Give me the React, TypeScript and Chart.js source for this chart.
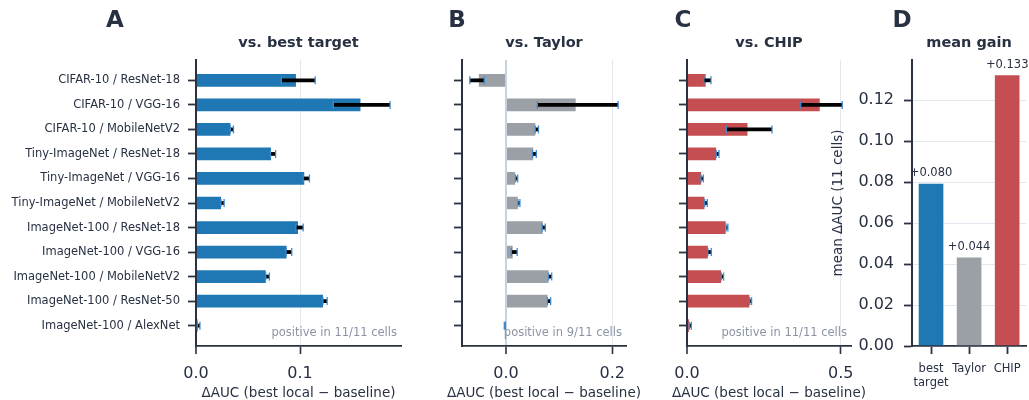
import React, { useEffect, useRef } from "react";
import { Chart, registerables } from "chart.js";

Chart.register(...registerables);

// ---------- data ----------
const cells = [
  "CIFAR-10 / ResNet-18",
  "CIFAR-10 / VGG-16",
  "CIFAR-10 / MobileNetV2",
  "Tiny-ImageNet / ResNet-18",
  "Tiny-ImageNet / VGG-16",
  "Tiny-ImageNet / MobileNetV2",
  "ImageNet-100 / ResNet-18",
  "ImageNet-100 / VGG-16",
  "ImageNet-100 / MobileNetV2",
  "ImageNet-100 / ResNet-50",
  "ImageNet-100 / AlexNet",
];

const bestTargetGain = [0.097, 0.159, 0.034, 0.073, 0.105, 0.025, 0.099, 0.088, 0.068, 0.123, 0.002];
const bestTargetLo = [0.082, 0.132, 0.033, 0.0715, 0.103, 0.024, 0.096, 0.0865, 0.067, 0.122, 0.0013];
const bestTargetHi = [0.1145, 0.1865, 0.036, 0.0765, 0.109, 0.027, 0.103, 0.092, 0.0705, 0.126, 0.0038];

const taylorGain = [-0.053, 0.133, 0.057, 0.053, 0.019, 0.024, 0.071, 0.0145, 0.082, 0.080, -0.002];
const taylorLo = [-0.068, 0.059, 0.055, 0.050, 0.018, 0.0225, 0.068, 0.010, 0.080, 0.078, -0.0032];
const taylorHi = [-0.041, 0.211, 0.061, 0.057, 0.022, 0.0262, 0.074, 0.021, 0.086, 0.084, -0.0012];

const chipGain = [0.064, 0.435, 0.2, 0.098, 0.049, 0.06, 0.129, 0.071, 0.114, 0.206, 0.009];
const chipLo = [0.055, 0.370, 0.128, 0.095, 0.0455, 0.0575, 0.127, 0.068, 0.1117, 0.204, 0.0076];
const chipHi = [0.078, 0.505, 0.2765, 0.104, 0.053, 0.066, 0.133, 0.079, 0.119, 0.210, 0.014];

const summaryLabels = [["best", "target"], "Taylor", "CHIP"];
const summaryMeans = [0.0797, 0.0437, 0.1328];

const panelNotes = ["positive in 11/11 cells", "positive in 9/11 cells", "positive in 11/11 cells"];
const panelTitles = ["vs. best target", "vs. Taylor", "vs. CHIP", "mean gain"];
const panelLetters = ["A", "B", "C", "D"];
const xAxisTitle = "ΔAUC (best local − baseline)";
const summaryAxisTitle = "mean ΔAUC (11 cells)";

// ---------- style ----------
const FONT = "'DejaVu Sans', 'Liberation Sans', sans-serif";
const INK = "#283142";
const SPINE = "#2a3140";
const GRID = "#e4e7ee";
const ZERO = "#c6d2e1";
const NOTE = "#8b94a4";
const CAP = "#3d8ad0";
const BLUE = "#1f77b4";
const GRAY = "#9aa0a6";
const RED = "#c44e52";
const EDGE = "rgba(255,255,255,0.35)";
const W = 1029;
const H = 400;

Chart.defaults.font.family = FONT;

function decorPlugin(letter: string, letterX: number, title: string, note?: string, axisTitle?: string) {
  return {
    id: "decor" + letter,
    afterDraw(chart: any) {
      const { ctx, chartArea } = chart;
      const cx = (chartArea.left + chartArea.right) / 2;
      ctx.save();
      ctx.fillStyle = INK;
      ctx.textAlign = "center";
      ctx.textBaseline = "alphabetic";
      ctx.font = `bold 23px ${FONT}`;
      ctx.fillText(letter, letterX, 27);
      ctx.font = `bold 14.5px ${FONT}`;
      ctx.fillText(title, cx, 47);
      if (axisTitle) {
        ctx.font = `13.5px ${FONT}`;
        ctx.fillText(axisTitle, cx, 397);
      }
      if (note) {
        ctx.font = `11.5px ${FONT}`;
        ctx.fillStyle = NOTE;
        ctx.textAlign = "right";
        ctx.fillText(note, chartArea.right - 4, 336);
      }
      ctx.restore();
    },
  };
}

function errorBarPlugin(lo: number[], hi: number[]) {
  return {
    id: "errbars",
    afterDatasetsDraw(chart: any) {
      const { ctx } = chart;
      const xs = chart.scales.x;
      const ys = chart.scales.y;
      ctx.save();
      lo.forEach((l, i) => {
        const x1 = xs.getPixelForValue(l);
        const x2 = xs.getPixelForValue(hi[i]);
        const y = ys.getPixelForValue(i);
        ctx.strokeStyle = "#000";
        ctx.lineWidth = 3.8;
        ctx.lineCap = "butt";
        ctx.beginPath();
        ctx.moveTo(x1, y);
        ctx.lineTo(x2, y);
        ctx.stroke();
        ctx.strokeStyle = CAP;
        ctx.lineWidth = 1.3;
        [x1, x2].forEach((xx) => {
          ctx.beginPath();
          ctx.moveTo(xx, y - 4);
          ctx.lineTo(xx, y + 4);
          ctx.stroke();
        });
      });
      ctx.restore();
    },
  };
}

function valueLabelPlugin() {
  return {
    id: "valueLabels",
    afterDatasetsDraw(chart: any) {
      const { ctx } = chart;
      const meta = chart.getDatasetMeta(0);
      const values = chart.data.datasets[0].data as number[];
      ctx.save();
      ctx.fillStyle = INK;
      ctx.font = `11.5px ${FONT}`;
      ctx.textAlign = "center";
      ctx.textBaseline = "alphabetic";
      meta.data.forEach((bar: any, i: number) => {
        ctx.fillText("+" + values[i].toFixed(3), bar.x, bar.y - 6.5);
      });
      ctx.restore();
    },
  };
}

type Area = { l: number; r: number; t: number; b: number };

function hbarConfig(p: {
  values: number[];
  lo: number[];
  hi: number[];
  color: string;
  xMin: number;
  xMax: number;
  xStep: number;
  showLabels: boolean;
  zeroColor: string;
  area: Area;
  idx: number;
  letterX: number;
}) {
  const data = p.values.map((v, i) => ({ x: v, y: i }));
  return {
    type: "bar",
    data: {
      datasets: [
        {
          data,
          backgroundColor: p.color,
          borderColor: EDGE,
          borderWidth: 1,
          categoryPercentage: 1,
          barPercentage: 0.6,
        },
      ],
    },
    options: {
      animation: false,
      responsive: false,
      indexAxis: "y",
      events: [],
      layout: { padding: { left: 0, top: p.area.t, right: W - p.area.r, bottom: 0 } },
      plugins: { legend: { display: false }, tooltip: { enabled: false } },
      scales: {
        x: {
          type: "linear",
          position: "bottom",
          min: p.xMin,
          max: p.xMax,
          afterFit: (s: any) => {
            s.height = H - p.area.b;
          },
          ticks: {
            stepSize: p.xStep,
            includeBounds: false,
            maxRotation: 0,
            callback: (v: any) => Number(v).toFixed(1),
            font: { size: 16 },
            color: INK,
            padding: 10,
          },
          grid: {
            color: (c: any) => (c.tick && Math.abs(c.tick.value) < 1e-9 ? p.zeroColor : GRID),
            lineWidth: (c: any) => (c.tick && Math.abs(c.tick.value) < 1e-9 ? 2 : 1),
            tickColor: SPINE,
            tickLength: 8,
            tickWidth: 1.6,
          },
          border: { color: SPINE, width: 1.8 },
        },
        y: {
          type: "linear",
          reverse: true,
          offset: false,
          min: -0.83,
          max: 10.83,
          afterFit: (s: any) => {
            s.width = p.area.l;
          },
          ticks: {
            stepSize: 1,
            includeBounds: false,
            autoSkip: false,
            callback: (v: any) => (p.showLabels ? cells[Math.round(Number(v))] : ""),
            font: { size: 11.5 },
            color: INK,
            padding: 8,
          },
          grid: {
            offset: false,
            drawOnChartArea: false,
            tickColor: SPINE,
            tickLength: 8,
            tickWidth: 1.8,
          },
          border: { color: SPINE, width: 2 },
        },
      },
    },
    plugins: [
      errorBarPlugin(p.lo, p.hi),
      decorPlugin(panelLetters[p.idx], p.letterX, panelTitles[p.idx], panelNotes[p.idx], xAxisTitle),
    ],
  };
}

function summaryConfig() {
  const area: Area = { l: 912, r: 1027, t: 60, b: 346 };
  const yLeft = 830;
  return {
    type: "bar",
    data: {
      labels: summaryLabels,
      datasets: [
        {
          data: summaryMeans,
          backgroundColor: [BLUE, GRAY, RED],
          borderColor: EDGE,
          borderWidth: 1,
          categoryPercentage: 1,
          barPercentage: 0.7,
        },
      ],
    },
    options: {
      animation: false,
      responsive: false,
      events: [],
      layout: { padding: { left: yLeft, top: area.t, right: W - area.r, bottom: 0 } },
      plugins: { legend: { display: false }, tooltip: { enabled: false } },
      scales: {
        x: {
          type: "category",
          offset: true,
          afterFit: (s: any) => {
            s.height = H - area.b;
          },
          ticks: {
            autoSkip: false,
            maxRotation: 0,
            font: { size: 11.5, lineHeight: 1.22 },
            color: INK,
            padding: 8,
          },
          grid: {
            offset: false,
            drawOnChartArea: false,
            tickColor: SPINE,
            tickLength: 8,
            tickWidth: 1.8,
          },
          border: { color: SPINE, width: 1.8 },
        },
        y: {
          type: "linear",
          min: 0,
          max: 0.1397,
          afterFit: (s: any) => {
            s.width = area.l - yLeft;
          },
          ticks: {
            stepSize: 0.02,
            includeBounds: false,
            callback: (v: any) => Number(v).toFixed(2),
            font: { size: 16 },
            color: INK,
            padding: 10,
          },
          grid: {
            color: (c: any) => (c.tick && Math.abs(c.tick.value) < 1e-9 ? "rgba(0,0,0,0)" : GRID),
            tickColor: SPINE,
            tickLength: 8,
            tickWidth: 1.8,
          },
          border: { color: SPINE, width: 2 },
          title: {
            display: true,
            text: summaryAxisTitle,
            color: INK,
            font: { size: 13.5, lineHeight: 1.2 },
            padding: 0,
          },
        },
      },
    },
    plugins: [valueLabelPlugin(), decorPlugin(panelLetters[3], 902, panelTitles[3])],
  };
}

function useChart(ref: React.RefObject<HTMLCanvasElement>, make: () => any) {
  useEffect(() => {
    if (!ref.current) return;
    const chart = new Chart(ref.current, make());
    return () => chart.destroy();
  }, []);
}

export default function App() {
  const a = useRef<HTMLCanvasElement>(null);
  const b = useRef<HTMLCanvasElement>(null);
  const c = useRef<HTMLCanvasElement>(null);
  const d = useRef<HTMLCanvasElement>(null);

  useChart(a, () =>
    hbarConfig({
      values: bestTargetGain,
      lo: bestTargetLo,
      hi: bestTargetHi,
      color: BLUE,
      xMin: 0,
      xMax: 0.197,
      xStep: 0.1,
      showLabels: true,
      zeroColor: "rgba(0,0,0,0)",
      area: { l: 196, r: 401, t: 60, b: 346 },
      idx: 0,
      letterX: 115,
    })
  );
  useChart(b, () =>
    hbarConfig({
      values: taylorGain,
      lo: taylorLo,
      hi: taylorHi,
      color: GRAY,
      xMin: -0.0828,
      xMax: 0.2258,
      xStep: 0.2,
      showLabels: false,
      zeroColor: ZERO,
      area: { l: 462, r: 626, t: 60, b: 346 },
      idx: 1,
      letterX: 457,
    })
  );
  useChart(c, () =>
    hbarConfig({
      values: chipGain,
      lo: chipLo,
      hi: chipHi,
      color: RED,
      xMin: 0,
      xMax: 0.5335,
      xStep: 0.5,
      showLabels: false,
      zeroColor: "rgba(0,0,0,0)",
      area: { l: 687, r: 851, t: 60, b: 346 },
      idx: 2,
      letterX: 683,
    })
  );
  useChart(d, summaryConfig);

  const canvasStyle: React.CSSProperties = {
    position: "absolute",
    left: 0,
    top: 0,
    width: W,
    height: H,
  };

  return (
    <div
      style={{
        position: "fixed",
        left: 0,
        top: 0,
        width: W,
        height: H,
        background: "#ffffff",
        overflow: "hidden",
      }}
    >
      <canvas ref={a} width={W} height={H} style={canvasStyle} />
      <canvas ref={b} width={W} height={H} style={canvasStyle} />
      <canvas ref={c} width={W} height={H} style={canvasStyle} />
      <canvas ref={d} width={W} height={H} style={canvasStyle} />
    </div>
  );
}
